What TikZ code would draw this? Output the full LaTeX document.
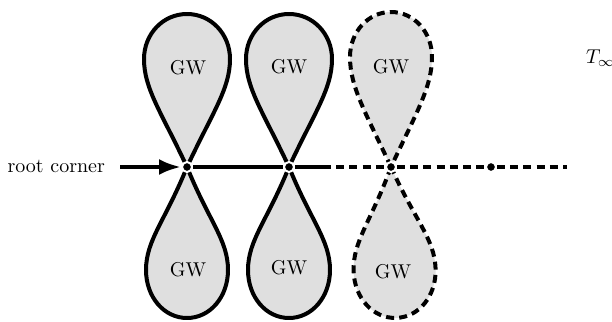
\documentclass[tikz,border=0pt]{standalone}
\usepackage{fontspec}
\usetikzlibrary{arrows.meta}

\tikzset{
  lobe/.style={black, line width=2pt, fill=gray!25, line join=round},
  dlobe/.style={lobe, dash pattern=on 4pt off 2.6pt},
  dot/.style={circle, fill=black, draw=white, line width=1pt, inner sep=0pt, minimum size=5pt},
  spine/.style={black, line width=2pt},
  dspine/.style={spine, dash pattern=on 4pt off 2.6pt}
}

\begin{document}
\begin{tikzpicture}[x=0.5pt, y=0.5pt]
		\useasboundingbox (0,0) rectangle (612,322);
		\coordinate (c1) at (187,155);
		\coordinate (c2) at (289,155);
		\coordinate (c3) at (391,155);
		\coordinate (c4) at (491,155);
		\coordinate (s) at (323,155);
		\coordinate (e) at (567,155);
		\coordinate (a) at (120,155);
		% upper and lower lobes
		\draw [lobe, shift={(c1)}] (0,0) .. controls (115:60) and (-43,78) .. (-43,108) .. controls (-43,133) and (-24,153) .. (0,153) .. controls (24,153) and (43,133) .. (43,108) .. controls (43,78) and (65:60) .. (0,0);
		\draw [lobe, shift={(c1)}] (0,0) .. controls (-112:58) and (-41,-73) .. (-41,-103) .. controls (-41,-130) and (-23,-151) .. (0,-151) .. controls (23,-151) and (41,-130) .. (41,-103) .. controls (41,-73) and (-68:58) .. (0,0);
		\draw [lobe, shift={(c2)}] (0,0) .. controls (115:60) and (-43,78) .. (-43,108) .. controls (-43,133) and (-24,153) .. (0,153) .. controls (24,153) and (43,133) .. (43,108) .. controls (43,78) and (65:60) .. (0,0);
		\draw [lobe, shift={(c2)}] (0,0) .. controls (-112:58) and (-41,-73) .. (-41,-103) .. controls (-41,-130) and (-23,-151) .. (0,-151) .. controls (23,-151) and (41,-130) .. (41,-103) .. controls (41,-73) and (-68:58) .. (0,0);
		\draw [dlobe, shift={(c3)}] (0,0) .. controls (115:60) and (-41,80) .. (-41,110) .. controls (-41,135) and (-23,155) .. (0,155) .. controls (23,155) and (41,135) .. (41,110) .. controls (41,80) and (65:60) .. (0,0);
		\draw [dlobe, shift={(c3)}, rotate=2] (0,0) .. controls (-112:58) and (-41,-73) .. (-41,-103) .. controls (-41,-130) and (-23,-151) .. (0,-151) .. controls (23,-151) and (41,-130) .. (41,-103) .. controls (41,-73) and (-68:58) .. (0,0);
		\node (g1) at (188,254) {GW};
		\node (g2) at (289,255) {GW};
		\node (g3) at (391,255) {GW};
		\node (g4) at (188,52) {GW};
		\node (g5) at (289,54) {GW};
		\node (g6) at (393,50) {GW};
		% vertices
		\node [dot] (v1) at (c1) {};
		\node [dot] (v2) at (c2) {};
		\node [dot] (v3) at (c3) {};
		\node [dot] (v4) at (c4) {};
		\draw [spine] (v1) -- (v2);
		\draw [spine] (v2) -- (s);
		\draw [dspine] (s) -- (v3);
		\draw [dspine] (v3) -- (v4);
		\draw [dspine] (v4) -- (e);
		\node [anchor=east] (root) at (112,156) {root corner};
		\draw [spine, -{Latex[length=11pt, width=8pt]}] (a) -- (v1);
		\node [anchor=west] (tinf) at (579,264) {$T_\infty$};
	\end{tikzpicture}
\end{document}
